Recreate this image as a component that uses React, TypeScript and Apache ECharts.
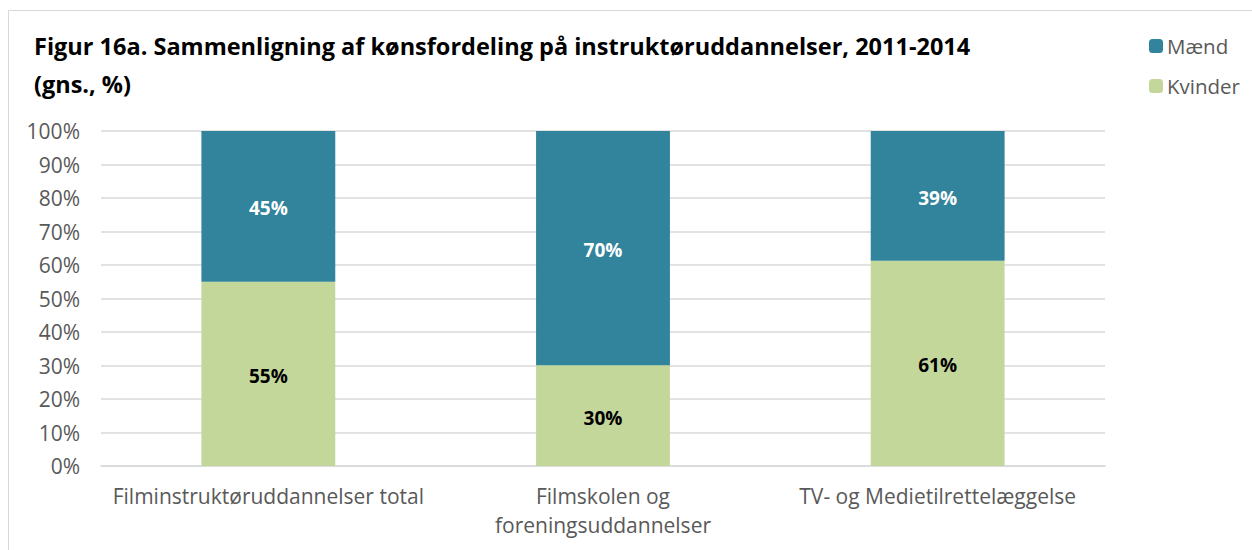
import React, { useEffect, useRef } from "react";
import * as echarts from "echarts";

const categories = [
  "Filminstruktøruddannelser total",
  "Filmskolen og\nforeningsuddannelser",
  "TV- og Medietilrettelæggelse",
];
const kvinder = [55, 30.1, 61.3];
const maend = [45, 69.9, 38.7];
const yTicks = [0, 10, 20, 30, 40, 50, 60, 70, 80, 90, 100];

const FONT = "'Open Sans', sans-serif";

export default function App() {
  const ref = useRef<HTMLDivElement>(null);
  useEffect(() => {
    if (!ref.current) return;
    const chart = echarts.init(ref.current, null, { renderer: "svg" });
    chart.setOption({
      animation: false,
      backgroundColor: "#ffffff",
      title: {
        text: "Figur 16a. Sammenligning af kønsfordeling på instruktøruddannelser, 2011-2014\n(gns., %)",
        left: 29,
        top: 22,
        textStyle: {
          fontFamily: FONT,
          fontWeight: "bold",
          fontSize: 23.5,
          color: "#000000",
          lineHeight: 38,
        },
      },
      legend: {
        orient: "vertical",
        left: 1144,
        top: 28,
        itemWidth: 14,
        itemHeight: 14,
        itemGap: 14,
        data: ["Mænd", "Kvinder"],
        textStyle: { fontFamily: FONT, fontSize: 20.5, color: "#595959", padding: [0, 0, 0, -1], lineHeight: 26 },
      },
      graphic: [
        {
          type: "rect",
          shape: { x: 8.5, y: 10.5, width: 1300, height: 600 },
          style: { fill: "none", stroke: "#d9d9d9", lineWidth: 1 },
          silent: true,
        },
      ],
      grid: { left: 101, right: 147, top: 131, bottom: 84 },
      xAxis: {
        type: "category",
        data: categories,
        axisLine: { lineStyle: { color: "#d9d9d9", width: 1.5 } },
        axisTick: { show: false },
        axisLabel: {
          interval: 0,
          hideOverlap: false,
          fontFamily: FONT,
          fontSize: 21,
          color: "#595959",
          margin: 15,
          lineHeight: 29,
        },
      },
      yAxis: {
        type: "value",
        min: 0,
        max: 100,
        interval: 10,
        axisLine: { show: false },
        axisTick: { show: false },
        splitLine: { lineStyle: { color: "#d9d9d9", width: 1.5 } },
        axisLabel: {
          fontFamily: FONT,
          fontSize: 21,
          color: "#595959",
          margin: 21,
          formatter: (v: number) => (yTicks.includes(v) ? v + "%" : ""),
        },
      },
      series: [
        {
          name: "Kvinder",
          type: "bar",
          stack: "total",
          data: kvinder,
          barWidth: "40%",
          itemStyle: { color: "#C4D79B" },
          label: {
            show: true,
            position: "inside",
            offset: [0, 2],
            fontFamily: FONT,
            fontWeight: "bold",
            fontSize: 19,
            color: "#000000",
            formatter: (p: any) => Math.round(p.value) + "%",
          },
        },
        {
          name: "Mænd",
          type: "bar",
          stack: "total",
          data: maend,
          barWidth: "40%",
          itemStyle: { color: "#31849B" },
          label: {
            show: true,
            position: "inside",
            offset: [0, 2],
            fontFamily: FONT,
            fontWeight: "bold",
            fontSize: 19,
            color: "#ffffff",
            formatter: (p: any) => Math.round(p.value) + "%",
          },
        },
      ],
    });
    return () => chart.dispose();
  }, []);
  return (
    <div
      ref={ref}
      style={{ position: "absolute", left: 0, top: 0, width: 1252, height: 550 }}
    />
  );
}
